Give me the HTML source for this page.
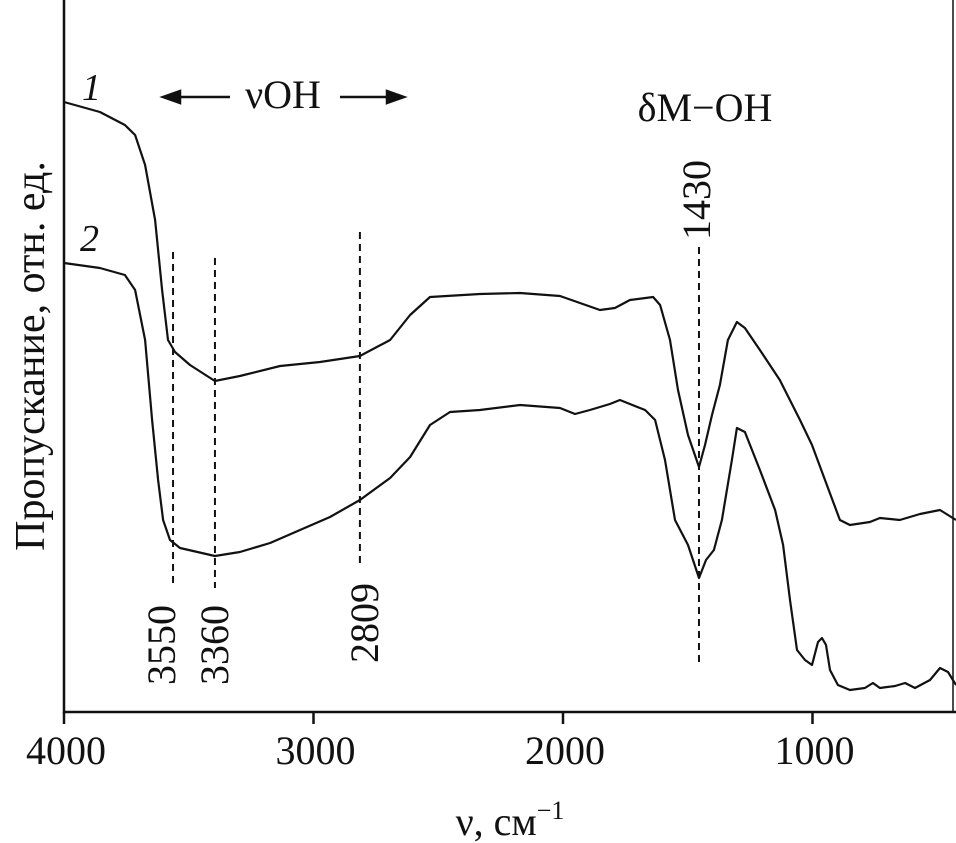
<!DOCTYPE html>
<html><head><meta charset="utf-8"><style>
html,body{margin:0;padding:0;background:#fff}
svg{display:block}
text{font-family:"Liberation Serif","DejaVu Serif",serif;fill:#111}
</style></head><body>
<svg id="chart" width="956" height="843" viewBox="0 0 956 843" xmlns="http://www.w3.org/2000/svg">
<g id="axes"></g>
<g id="marks"></g>
<g id="labels">
  <text transform="translate(44,356) rotate(-90)" text-anchor="middle" font-size="42">Пропускание, отн. ед.</text>
  <text x="510" y="835" text-anchor="middle" font-size="40">ν, см<tspan font-size="26" dy="-16">−1</tspan></text>
  <text x="82" y="100" font-size="38" font-style="italic">1</text>
  <text x="80" y="251" font-size="38" font-style="italic">2</text>
  <text x="283" y="108" text-anchor="middle" font-size="40">νOH</text>
  <g stroke="#111" stroke-width="2.5" fill="#111">
    <line x1="175" y1="97" x2="230" y2="97"/><polygon points="163,97 180,91 180,103"/>
    <line x1="340" y1="97" x2="392" y2="97"/><polygon points="404,97 387,91 387,103"/>
  </g>
  <text x="705" y="121" text-anchor="middle" font-size="40">δM−OH</text>
</g>
<script>
const ticks=[4000,3000,2000,1000];
const v1=[4000,3856,3756,3715,3675,3635,3607,3583,3555,3495,3395,3295,3134,2974,2814,2693,2613,2533,2333,2172,2012,1932,1852,1792,1732,1639,1611,1571,1539,1499,1455,1431,1403,1371,1339,1303,1271,1211,1131,1050,1002,950,890,850,770,730,650,569,489,425];
const t1=[102,112,125,135,165,220,290,340,352,365,381,376,366,362,356,340,315,297,294,293,296,303,310,308,300,297,305,340,390,435,467,445,415,385,340,322,328,350,380,420,445,480,520,525,522,518,520,514,510,520].map(y=>(712-y)/7.12);
const v2=[4000,3856,3756,3715,3675,3647,3623,3603,3575,3535,3395,3295,3174,3054,2934,2814,2693,2613,2533,2453,2333,2172,2012,1952,1892,1812,1772,1732,1671,1631,1591,1551,1499,1455,1427,1395,1363,1323,1303,1271,1211,1150,1118,1090,1062,1030,1002,978,962,946,930,898,850,790,758,730,669,629,589,529,489,457,425];
const t2=[263,268,275,290,340,420,480,520,540,548,556,552,543,530,517,500,478,457,425,412,410,405,408,414,410,404,400,404,410,420,460,520,545,578,560,550,520,460,428,432,470,510,545,600,650,660,665,642,638,645,670,685,690,688,683,688,686,683,688,680,668,672,685].map(y=>(712-y)/7.12);
const peakPos=[3563,3395,2814,1455];
const peakLabels=['3550','3360','2809','1430'];
const peakTop=[252,258,232,247].map(y=>(712-y)/7.12);
const peakBot=[588,588,565,665].map(y=>(712-y)/7.12);
const X=v=>64+(4000-v)*0.2495;
const Y=t=>712-t*7.12;
const NS="http://www.w3.org/2000/svg";
const axes=document.getElementById('axes'),marks=document.getElementById('marks'),labels=document.getElementById('labels');
function mk(tag,attrs,parent){const e=document.createElementNS(NS,tag);for(const k in attrs)e.setAttribute(k,attrs[k]);parent.appendChild(e);return e;}
let a=mk('path',{d:'M64,0 V712 H956',fill:'none',stroke:'#111','stroke-width':2.5},axes);


let r=mk('line',{x1:953,x2:953,y1:0,y2:712,stroke:'#111','stroke-width':1.5},axes);


ticks.forEach(v=>{
  let l=mk('line',{x1:X(v),x2:X(v),y1:712,y2:724,stroke:'#111','stroke-width':2.5},axes);
  
  
  let t=mk('text',{x:X(v)+2,y:764,'text-anchor':'middle','font-size':40},axes);
  t.textContent=v;
  
  
});
function line(vs,ts,name){
  const d=vs.map((v,i)=>(i?'L':'M')+X(v).toFixed(1)+','+Y(ts[i]).toFixed(1)).join(' ');
  const p=mk('path',{d:d,fill:'none',stroke:'#111','stroke-width':2.2,'stroke-linejoin':'round'},marks);
  
  
}
line(v1,t1,'spectrum-curve-1');
line(v2,t2,'spectrum-curve-2');
const labelPos=[[175,685],[228,685],[378,663],[710,240]];
peakPos.forEach((v,i)=>{
  const l=mk('line',{x1:X(v),x2:X(v),y1:Y(peakTop[i]),y2:Y(peakBot[i]),stroke:'#111','stroke-width':2,'stroke-dasharray':'7,5'},marks);
  
  
  const p=labelPos[i];
  const t=mk('text',{transform:`translate(${p[0]},${p[1]}) rotate(-90)`,'text-anchor':'start','font-size':40},labels);
  t.textContent=peakLabels[i];
  
  
});
</script>
</svg>
</body></html>
